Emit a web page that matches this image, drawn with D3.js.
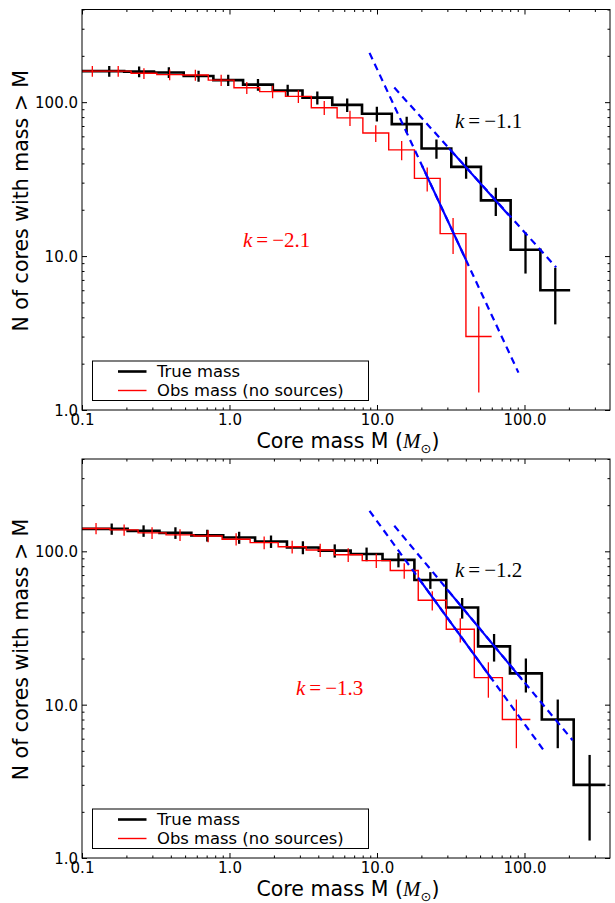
<!DOCTYPE html>
<html><head><meta charset="utf-8">
<script src="https://cdn.jsdelivr.net/npm/d3@7"></script>
<style>body{margin:0;background:#fff} svg{display:block}</style>
</head><body><svg id="c" width="615" height="903"></svg>
<script>
// ---------------- data ----------------
const xTickValues = [0.1, 1, 10, 100];
const xTickLabels = ["0.1", "1.0", "10.0", "100.0"];
const yTickValues = [1, 10, 100];
const yTickLabels = ["1.0", "10.0", "100.0"];
const xDomain = [0.1, 380];
const yDomain = [1, 400];

// top panel
const topTrueM   = [0.153, 0.244, 0.388, 0.617, 0.980, 1.56, 2.48, 3.94, 6.28, 9.98, 15.9, 25.3, 40.2, 63.9, 101.6, 161.7];
const topTrueN   = [159, 158, 156, 148, 139, 130, 119, 107, 96, 84, 72, 50, 38, 23, 11, 6];
const topTrueErr = [12.6, 12.6, 12.5, 12.2, 11.8, 11.4, 10.9, 10.3, 9.8, 9.2, 8.5, 7.1, 6.2, 4.8, 3.3, 2.4];
const topObsM    = [0.1175, 0.176, 0.263, 0.393, 0.587, 0.878, 1.31, 1.96, 2.93, 4.39, 6.56, 9.81, 14.7, 21.9, 32.8, 49.0];
const topObsN    = [159, 159, 154, 151, 150, 139, 124, 117, 109, 92, 79, 63, 49, 32, 14, 3];
const topObsErr  = [12.6, 12.6, 12.4, 12.3, 12.2, 11.8, 11.1, 10.8, 10.4, 9.6, 8.9, 7.9, 7.0, 5.7, 3.7, 1.7];
const topFitTrueDash  = [[13.1, 124.5], [164, 8.45]];
const topFitTrueSolid = [[30.8, 50.1], [78, 18.5]];
const topFitObsDash   = [[8.9, 209], [91, 1.75]];
const topFitObsSolid  = [[20.2, 38.7], [40, 9.5]];
const topSlopes = ["\u22121.1", "\u22122.1"];

// bottom panel
const botTrueM   = [0.159, 0.2615, 0.430, 0.707, 1.163, 1.912, 3.145, 5.17, 8.50, 13.98, 23.0, 37.8, 62.2, 102.2, 168.1, 276.4];
const botTrueN   = [140, 136, 132, 127, 123, 116, 106, 101, 96, 88, 65, 43, 24, 16, 8, 3];
const botTrueErr = [11.8, 11.7, 11.5, 11.3, 11.1, 10.8, 10.3, 10.0, 9.8, 9.4, 8.1, 6.6, 4.9, 4.0, 2.8, 1.7];
const botObsM    = [0.1245, 0.193, 0.2985, 0.462, 0.716, 1.109, 1.718, 2.66, 4.12, 6.38, 9.89, 15.3, 23.7, 36.7, 56.9, 88.1];
const botObsN    = [141, 138, 132, 128, 126, 120, 114, 107, 102, 95, 87, 75, 48, 31, 15, 8];
const botObsErr  = [11.9, 11.7, 11.5, 11.3, 11.2, 11.0, 10.7, 10.3, 10.1, 9.7, 9.3, 8.7, 6.9, 5.6, 3.9, 2.8];
const botFitTrueDash  = [[13.1, 146.8], [212, 5.86]];
const botFitTrueSolid = [[29.8, 56.7], [96.6, 14.5]];
const botFitObsDash   = [[8.9, 183.7], [134.9, 5.04]];
const botFitObsSolid  = [[19.0, 67.4], [60.5, 14.55]];
const botSlopes = ["\u22121.2", "\u22121.3"];

const legendLabels = ["True mass", "Obs mass (no sources)"];
const yLabel = "N of cores with mass > M";

// ---------------- drawing ----------------
const svg = d3.select("#c");
const L = 82, R = 610;
const panels = [
  {top: 9.5, bottom: 410, trueM: topTrueM, trueN: topTrueN, trueErr: topTrueErr,
   obsM: topObsM, obsN: topObsN, obsErr: topObsErr,
   dashes: [topFitObsDash, topFitTrueDash], solids: [topFitObsSolid, topFitTrueSolid],
   slopes: topSlopes, kTrue: [455, 128], kObs: [243, 247]},
  {top: 459, bottom: 858, trueM: botTrueM, trueN: botTrueN, trueErr: botTrueErr,
   obsM: botObsM, obsN: botObsN, obsErr: botObsErr,
   dashes: [botFitObsDash, botFitTrueDash], solids: [botFitObsSolid, botFitTrueSolid],
   slopes: botSlopes, kTrue: [455, 577], kObs: [296, 695]}
];

function minorTicks(domain) {
  const out = [];
  const lo = Math.floor(Math.log10(domain[0])), hi = Math.ceil(Math.log10(domain[1]));
  for (let e = lo; e <= hi; e++) for (let m = 2; m <= 9; m++) {
    const v = m * Math.pow(10, e);
    if (v >= domain[0] && v <= domain[1]) out.push(v);
  }
  return out;
}

function stepPath(M, N, xs, ys) {
  const n = M.length;
  const e = [xDomain[0] / 3];
  for (let i = 0; i < n - 1; i++) e.push(Math.sqrt(M[i] * M[i + 1]));
  e.push(M[n - 1] * Math.sqrt(M[n - 1] / M[n - 2]));
  let d = `M${xs(e[0])},${ys(N[0])}`;
  for (let i = 0; i < n; i++) {
    d += `H${xs(e[i + 1])}`;
    if (i < n - 1) d += `V${ys(N[i + 1])}`;
  }
  return d;
}

panels.forEach((p, pi) => {
  const xs = d3.scaleLog().domain(xDomain).range([L, R]);
  const ys = d3.scaleLog().domain(yDomain).range([p.bottom, p.top]);
  const g = svg.append("g");
  const clipId = "clip" + pi;
  svg.append("clipPath").attr("id", clipId).append("rect")
    .attr("x", L).attr("y", p.top).attr("width", R - L).attr("height", p.bottom - p.top);
  const plot = g.append("g").attr("clip-path", `url(#${clipId})`);

  function series(M, N, Err, color, lw, elw) {
    plot.append("path").attr("d", stepPath(M, N, xs, ys))
      .attr("fill", "none").attr("stroke", color).attr("stroke-width", lw);
    plot.append("g").selectAll("line").data(M).join("line")
      .attr("x1", d => xs(d)).attr("x2", d => xs(d))
      .attr("y1", (d, i) => ys(N[i] + Err[i]))
      .attr("y2", (d, i) => ys(Math.max(N[i] - Err[i], 0.5)))
      .attr("stroke", color).attr("stroke-width", elw);
  }
  series(p.trueM, p.trueN, p.trueErr, "#000", 2.6, 2.3);
  series(p.obsM, p.obsN, p.obsErr, "#ff0000", 1.4, 1.3);

  const line = d3.line().x(d => xs(d[0])).y(d => ys(d[1]));
  p.dashes.forEach(seg => plot.append("path").attr("d", line(seg))
    .attr("fill", "none").attr("stroke", "#0000ff").attr("stroke-width", 2.2)
    .attr("stroke-dasharray", "7,5"));
  p.solids.forEach(seg => plot.append("path").attr("d", line(seg))
    .attr("fill", "none").attr("stroke", "#0000ff").attr("stroke-width", 2.2));

  // axes (ticks inside, all four sides)
  const mk = (axis, scale, vals, size, fmt) =>
    axis(scale).tickValues(vals).tickSizeInner(size).tickSizeOuter(0).tickPadding(0).tickFormat(fmt || "");
  const addAxis = (a, tx, ty) => {
    const ag = g.append("g").attr("transform", `translate(${tx},${ty})`).call(a);
    ag.select(".domain").remove();
    ag.selectAll(".tick line").attr("stroke", "#000").attr("stroke-width", 1);
    return ag;
  };
  const xMin = minorTicks(xDomain), yMin = minorTicks(yDomain);
  const bx = addAxis(mk(d3.axisBottom, xs, xTickValues, -5, (d, i) => xTickLabels[i]), 0, p.bottom);
  bx.selectAll("text").attr("y", 4).attr("dy", "0.71em")
    .style("font-family", "DejaVu Sans").style("font-size", "15px").attr("fill", "#000");
  addAxis(mk(d3.axisBottom, xs, xMin, -2.5), 0, p.bottom);
  addAxis(mk(d3.axisTop, xs, xTickValues, -5), 0, p.top);
  addAxis(mk(d3.axisTop, xs, xMin, -2.5), 0, p.top);
  const ly = addAxis(mk(d3.axisLeft, ys, yTickValues, -5, (d, i) => yTickLabels[i]), L, 0);
  ly.selectAll("text").attr("x", -4).attr("dy", "0.36em")
    .style("font-family", "DejaVu Sans").style("font-size", "15px").attr("fill", "#000");
  addAxis(mk(d3.axisLeft, ys, yMin, -2.5), L, 0);
  addAxis(mk(d3.axisRight, ys, yTickValues, -5), R, 0);
  addAxis(mk(d3.axisRight, ys, yMin, -2.5), R, 0);

  g.append("rect").attr("x", L).attr("y", p.top).attr("width", R - L).attr("height", p.bottom - p.top)
    .attr("fill", "none").attr("stroke", "#000").attr("stroke-width", 1);

  // slope labels
  const kText = (pos, s, color) => {
    const t = g.append("text").attr("x", pos[0]).attr("y", pos[1]).attr("fill", color)
      .style("font-family", "Liberation Serif").style("font-size", "21px");
    t.append("tspan").style("font-style", "italic").text("k");
    t.append("tspan").attr("dx", 4).text("=");
    t.append("tspan").attr("dx", 4).text(s);
  };
  kText(p.kTrue, p.slopes[0], "#000");
  kText(p.kObs, p.slopes[1], "#ff0000");

  // legend
  const lx = 92.5, lyb = p.bottom - 9.5, lh = 39.5, lw = 276;
  g.append("rect").attr("x", lx).attr("y", lyb - lh).attr("width", lw).attr("height", lh)
    .attr("fill", "#fff").attr("stroke", "#000").attr("stroke-width", 1);
  const rows = [["#000", 2.6], ["#ff0000", 1.4]];
  rows.forEach((r, i) => {
    const yy = lyb - lh + 10.5 + i * 19;
    g.append("line").attr("x1", 118).attr("x2", 146.5).attr("y1", yy).attr("y2", yy)
      .attr("stroke", r[0]).attr("stroke-width", r[1]);
    g.append("text").attr("x", 157).attr("y", yy).attr("dy", "0.36em")
      .style("font-family", "DejaVu Sans").style("font-size", "16.4px").attr("fill", "#000")
      .text(legendLabels[i]);
  });

  // axis labels
  const xl = g.append("text").attr("x", (L + R) / 2 + 2).attr("y", p.bottom + 38)
    .attr("text-anchor", "middle").attr("fill", "#000")
    .style("font-family", "DejaVu Sans").style("font-size", "20.5px");
  xl.append("tspan").text("Core mass M (");
  xl.append("tspan").style("font-family", "Liberation Serif").style("font-style", "italic").style("font-size", "21px").text("M");
  xl.append("tspan").attr("dy", 5).style("font-size", "13px").text("\u2299");
  xl.append("tspan").attr("dy", -5).text(")");

  g.append("text").attr("transform", `translate(28,${(p.top + p.bottom) / 2 - 9}) rotate(-90)`)
    .attr("text-anchor", "middle").attr("fill", "#000")
    .style("font-family", "DejaVu Sans").style("font-size", "20.5px").text(yLabel);
});
</script></body></html>
